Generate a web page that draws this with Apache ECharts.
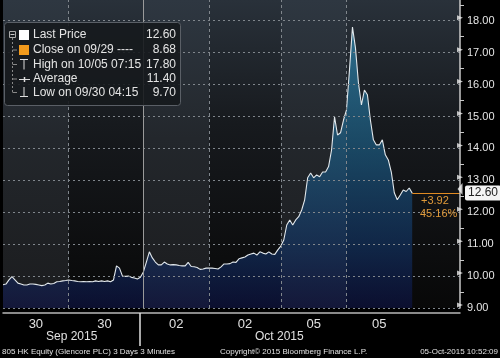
<!DOCTYPE html>
<html><head><meta charset="utf-8">
<script src="https://cdn.jsdelivr.net/npm/echarts@6/dist/echarts.min.js"></script>
<style>html,body{margin:0;padding:0;background:#000;} #c{width:500px;height:358px;}</style>
</head><body><div id="c"></div>
<script>
// ---- data ----
const sessionLabels = ['30', '30', '02', '02', '05', '05'];
const monthLabels = ['Sep 2015', 'Oct 2015'];
const prices = [
  9.73, 9.75, 9.88, 9.98, 9.88, 9.78, 9.75, 9.72, 9.72, 9.75,
  9.75, 9.74, 9.72, 9.70, 9.72, 9.78, 9.75, 9.77, 9.82, 9.83,
  9.85, 9.86, 9.88, 9.86, 9.85, 9.83, 9.82, 9.83, 9.82, 9.83,
  9.82, 9.85, 9.83, 9.85, 9.83, 9.85, 9.82, 9.88, 10.32, 10.25,
  10.00, 9.99, 10.00, 9.96, 9.94, 9.91, 9.96, 10.13, 10.44, 10.76,
  10.57, 10.44, 10.35, 10.35, 10.44, 10.38, 10.35, 10.36, 10.35, 10.33,
  10.32, 10.32, 10.43, 10.30, 10.29, 10.27, 10.21, 10.22, 10.25, 10.25,
  10.25, 10.24, 10.22, 10.29, 10.38, 10.38, 10.39, 10.44, 10.43, 10.54,
  10.57, 10.60, 10.66, 10.69, 10.72, 10.66, 10.76, 10.72, 10.69, 10.76,
  10.69, 10.68, 10.82, 10.94, 11.13, 11.60, 11.76, 11.60, 11.76, 11.86,
  12.07, 12.39, 13.08, 13.23, 13.08, 13.17, 13.11, 13.26, 13.26, 13.43,
  13.95, 14.99, 14.42, 14.49, 14.89, 15.21, 16.46, 17.80, 17.15, 16.05,
  15.36, 15.83, 15.68, 14.89, 14.27, 14.11, 14.11, 14.27, 13.80, 13.64,
  13.26, 12.61, 12.39, 12.54, 12.70, 12.65, 12.76, 12.60
];
const yTicks = [9, 10, 11, 12, 13, 14, 15, 16, 17, 18];
const legendNames = ['Last Price', 'Close on 09/29 ----', 'High on 10/05 07:15', 'Average', 'Low on 09/30 04:15'];
const legendValues = [12.60, 8.68, 17.80, 11.40, 9.70];
const prevClose = 8.68;
const slotCount = 154;                       // 3-minute slots across the axis
const sessionStarts = [0, 22.3, 46.6, 68.9, 93.1, 115.1]; // slot index of each half-day session
const footerLeft = '805 HK Equity (Glencore PLC) 3 Days 3 Minutes';
const footerMid = 'Copyright\u00a9 2015 Bloomberg Finance L.P.';
const footerRight = '05-Oct-2015 10:52:09';

// ---- build ----
const lastIdx = prices.length - 1;
const lastPrice = prices[lastIdx];
const sessionEnds = sessionStarts.slice(1).concat([lastIdx]);
const cats = [];
for (let i = 0; i < slotCount; i++) cats.push('');
sessionLabels.forEach((l, k) => { cats[Math.round((sessionStarts[k] + sessionEnds[k]) / 2)] = l; });

const FONT = 'Liberation Sans, Arial, sans-serif';
const chart = echarts.init(document.getElementById('c'), null, {renderer: 'canvas'});

const darkBandGrad = {type: 'linear', x: 0, y: 0, x2: 0, y2: 1, colorStops: [
  {offset: 0, color: '#29313a'}, {offset: 0.4, color: '#171a1e'}, {offset: 1, color: '#080808'}]};
const darkBands = [[sessionStarts[1], sessionStarts[2]], [sessionStarts[3], sessionStarts[4]], [sessionStarts[5], slotCount - 1]];
const dashEdges = [sessionStarts[1], sessionStarts[3], sessionStarts[4], sessionStarts[5]];

const change = lastPrice - prevClose;
const pct = change / prevClose * 100;

const legendGraphics = [
  {type: 'rect', shape: {x: 4.5, y: 22.5, width: 176, height: 83, r: 3}, style: {fill: 'rgba(22,25,29,0.9)', stroke: '#5a5f66', lineWidth: 1}},
  {type: 'rect', shape: {x: 9.5, y: 31.5, width: 6, height: 6}, style: {fill: 'none', stroke: '#aaa', lineWidth: 1}},
  {type: 'line', shape: {x1: 10.5, y1: 34.5, x2: 14.5, y2: 34.5}, style: {stroke: '#ccc', lineWidth: 1}},
  {type: 'line', shape: {x1: 12.5, y1: 38, x2: 12.5, y2: 92}, style: {stroke: '#888', lineWidth: 1, lineDash: [2, 2]}}
];
const rowY = [35, 50, 64.5, 79, 92.5];
rowY.slice(1).forEach(y => legendGraphics.push({type: 'line', shape: {x1: 12.5, y1: y, x2: 17, y2: y}, style: {stroke: '#888', lineWidth: 1}}));
legendGraphics.push(
  {type: 'rect', shape: {x: 19, y: 30, width: 10, height: 10}, style: {fill: '#ffffff'}},
  {type: 'rect', shape: {x: 19, y: 45, width: 10, height: 10}, style: {fill: '#f29a1c'}},
  {type: 'line', shape: {x1: 20, y1: 59.5, x2: 28, y2: 59.5}, style: {stroke: '#ddd', lineWidth: 1}},
  {type: 'line', shape: {x1: 24, y1: 59.5, x2: 24, y2: 69.5}, style: {stroke: '#ddd', lineWidth: 1}},
  {type: 'line', shape: {x1: 19, y1: 79.5, x2: 30, y2: 79.5}, style: {stroke: '#ddd', lineWidth: 1}},
  {type: 'line', shape: {x1: 24.5, y1: 77, x2: 24.5, y2: 82}, style: {stroke: '#ddd', lineWidth: 1.5}},
  {type: 'line', shape: {x1: 24, y1: 87, x2: 24, y2: 96.5}, style: {stroke: '#ddd', lineWidth: 1}},
  {type: 'line', shape: {x1: 20, y1: 96.5, x2: 28, y2: 96.5}, style: {stroke: '#ddd', lineWidth: 1}}
);
legendNames.forEach((n, k) => {
  legendGraphics.push({type: 'text', x: 33, y: rowY[k], style: {text: n, fill: '#e4e4e4', font: '12px ' + FONT, textVerticalAlign: 'middle'}});
  legendGraphics.push({type: 'text', x: 176, y: rowY[k], style: {text: legendValues[k].toFixed(2), fill: '#e4e4e4', font: '12px ' + FONT, textAlign: 'right', textVerticalAlign: 'middle'}});
});
legendGraphics.forEach(g => { g.z = 100; });

const otherGraphics = [
  {type: 'line', shape: {x1: 140, y1: 313, x2: 140, y2: 346}, style: {stroke: '#e0e0e0', lineWidth: 1.5}},
  {type: 'text', x: 46, y: 337, style: {text: monthLabels[0], fill: '#e0e0e0', font: '12px ' + FONT, textVerticalAlign: 'middle'}},
  {type: 'text', x: 255, y: 337, style: {text: monthLabels[1], fill: '#e0e0e0', font: '12px ' + FONT, textVerticalAlign: 'middle'}},
  {type: 'text', x: 2, y: 352, style: {text: footerLeft, fill: '#e0e0e0', font: '8px ' + FONT, textVerticalAlign: 'middle'}},
  {type: 'text', x: 220, y: 352, style: {text: footerMid, fill: '#e0e0e0', font: '8px ' + FONT, textVerticalAlign: 'middle'}},
  {type: 'text', x: 498, y: 352, style: {text: footerRight, fill: '#e0e0e0', font: '8px ' + FONT, textAlign: 'right', textVerticalAlign: 'middle'}},
  {type: 'text', x: 421, y: 201, style: {text: '+' + change.toFixed(2), fill: '#e09a3a', font: '11px ' + FONT, textVerticalAlign: 'middle'}},
  {type: 'text', x: 420, y: 214, style: {text: pct.toFixed(2) + '%', fill: '#e09a3a', font: '11px ' + FONT, textVerticalAlign: 'middle'}}
];
otherGraphics.forEach(g => { g.z = 100; });

chart.setOption({
  backgroundColor: '#000',
  animation: false,
  grid: {left: 0, right: 40, top: 0, bottom: 50, show: true, borderWidth: 0,
    backgroundColor: {type: 'linear', x: 0, y: 0, x2: 0, y2: 1, colorStops: [
      {offset: 0, color: '#2e3741'}, {offset: 0.45, color: '#23272c'}, {offset: 1, color: '#1b1c1e'}]}},
  xAxis: {
    type: 'category', data: cats, boundaryGap: false, offset: 5, z: 5,
    axisLine: {lineStyle: {color: '#b8b8b8', width: 1.5}},
    axisTick: {show: false},
    axisLabel: {interval: 0, color: '#e0e0e0', fontSize: 13, fontFamily: FONT, margin: 5},
    splitLine: {show: false}
  },
  yAxis: {
    type: 'value', position: 'right', min: 9, max: 18.65, interval: 1, z: 5,
    axisLine: {show: true, lineStyle: {color: '#c8c8c8', width: 1.5}},
    axisTick: {show: false},
    minorTick: {show: true, splitNumber: 2, length: 4, lineStyle: {color: '#c8c8c8'}},
    axisLabel: {color: '#e6e6e6', fontSize: 11, fontFamily: FONT, margin: 7, showMaxLabel: false,
      formatter: v => (Math.abs(v - Math.round(v)) < 1e-6 ? v.toFixed(2) : '')},
    splitLine: {show: true, showMaxLine: false, lineStyle: {color: '#80868c', type: [2, 3], width: 1}}
  },
  graphic: legendGraphics.concat(otherGraphics),
  series: [
    {
      name: 'bands', type: 'line', data: [], z: 1, silent: true,
      markArea: {silent: true, itemStyle: {color: darkBandGrad},
        data: darkBands.map(b => [{xAxis: b[0]}, {xAxis: b[1]}])},
      markLine: {silent: true, symbol: 'none', label: {show: false},
        data: dashEdges.map(e => ({xAxis: e, lineStyle: {color: '#80868c', type: [3, 3], width: 1}}))
          .concat([{xAxis: sessionStarts[2], lineStyle: {color: '#9a9a9a', type: 'solid', width: 1}}])}
    },
    {
      name: 'Last Price', type: 'line', data: prices, z: 3, symbol: 'none', smooth: false,
      lineStyle: {color: '#e2e8ec', width: 1.1},
      areaStyle: {origin: 'start', color: {type: 'linear', global: true, x: 0, y: 20, x2: 0, y2: 308, colorStops: [
        {offset: 0, color: 'rgba(52,150,192,0.92)'},
        {offset: 0.45, color: 'rgba(28,98,140,0.9)'},
        {offset: 0.8, color: 'rgba(18,52,105,0.86)'},
        {offset: 1, color: 'rgba(14,20,78,0.8)'}]}},
      markLine: {silent: true, symbol: 'none',
        lineStyle: {color: '#e08a22', type: 'solid', width: 1},
        label: {show: true, position: 'end', formatter: lastPrice.toFixed(2), color: '#222', backgroundColor: '#f4f4f4',
          padding: [2, 3, 1, 3], borderRadius: 2, fontSize: 12, fontFamily: FONT, distance: 5},
        data: [[{coord: [lastIdx, lastPrice]}, {coord: [slotCount - 1, lastPrice]}]]}
    },
    {
      name: 'ticks', type: 'scatter', silent: true, clip: false, z: 6,
      data: yTicks.map(v => [slotCount - 1, v]),
      symbol: 'triangle', symbolRotate: -90, symbolSize: [5, 6], symbolOffset: [0, -3],
      itemStyle: {color: '#e8e8e8'}
    },
    {
      name: 'lastArrow', type: 'scatter', silent: true, clip: false, z: 6,
      data: [[slotCount - 1, lastPrice]],
      symbol: 'triangle', symbolRotate: 90, symbolSize: [12, 5], symbolOffset: [0, -4],
      itemStyle: {color: '#f4f4f4'}
    }
  ]
});
</script></body></html>
